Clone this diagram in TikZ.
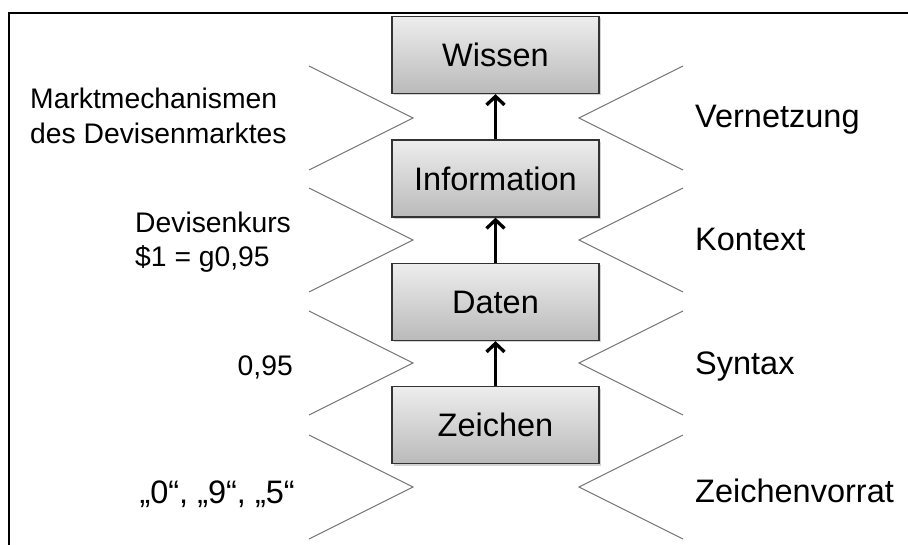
\documentclass[tikz,border=0pt]{standalone}
\usepackage{fontspec}
\setmainfont{Liberation Sans}
\usetikzlibrary{arrows.meta,shadows}
\begin{document}
\begin{tikzpicture}[x=1pt,y=-1pt,
  levelbox/.style={draw=black!80, line width=1.3pt, minimum width=207pt,
    minimum height=77pt, top color=black!7, bottom color=black!27,
    drop shadow={shadow xshift=1.5pt, shadow yshift=-2pt, opacity=0.35},
    font=\fontsize{32.5}{38}\selectfont, inner sep=0pt},
  upflow/.style={line width=3.3pt, -{Straight Barb[length=8.5pt,width=18pt]}},
  chevron/.style={draw=black!55, line width=1.1pt},
  biglabel/.style={font=\fontsize{32.5}{38}\selectfont, inner sep=0pt},
  smalllabel/.style={font=\fontsize{28.3}{34}\selectfont, inner sep=0pt}]
\useasboundingbox (0,0) rectangle (908,545);
% frame edges
\draw[line width=2pt] (9,545) -- (9,13) -- (908,13);

% level boxes
\node[levelbox] (wissen) at (495.5,55) {Wissen};
\node[levelbox] (info)   at (495.5,178.5) {Information};
\node[levelbox] (daten)  at (495.5,302) {Daten};
\node[levelbox] (zeichen) at (495.5,425) {Zeichen};

% arrows upwards
\draw[upflow] (info.north) -- (wissen.south);
\draw[upflow] (daten.north) -- (info.south);
\draw[upflow] (zeichen.north) -- (daten.south);

% chevrons on both sides
\foreach \yy in {118,240,363,487}{
  \draw[chevron] (309,\yy-52) -- (413,\yy) -- (309,\yy+52);
  \draw[chevron] (683,\yy-52) -- (579,\yy) -- (683,\yy+52);
}

% left-hand examples
\node[smalllabel, anchor=base west] (mm1) at (30,109) {Marktmechanismen};
\node[smalllabel, anchor=base west] (mm2) at (30,144) {des Devisenmarktes};
\node[smalllabel, anchor=base west] (dk1) at (135,233) {Devisenkurs};
\node[smalllabel, anchor=base west] (dk2) at (135,267) {\$1 = g0,95};
\node[smalllabel, anchor=base east] (num) at (293,375) {0,95};
\node[biglabel, anchor=base east] (chars) at (295,503) {„0“, „9“, „5“};

% right-hand transitions
\node[biglabel, anchor=base west] (vern) at (695,128) {Vernetzung};
\node[biglabel, anchor=base west] (kont) at (695,251) {Kontext};
\node[biglabel, anchor=base west] (synt) at (695,374) {Syntax};
\node[biglabel, anchor=base west] (zvor) at (695,502) {Zeichenvorrat};
\end{tikzpicture}
\end{document}
